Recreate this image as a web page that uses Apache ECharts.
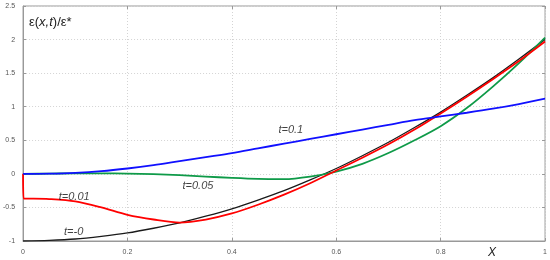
<!DOCTYPE html>
<html>
<head>
<meta charset="utf-8">
<script src="https://cdn.jsdelivr.net/npm/echarts@6/dist/echarts.min.js"></script>
<style>
  html, body { margin: 0; padding: 0; background: #fff; }
  #chart { width: 550px; height: 260px; }
</style>
</head>
<body>
<div id="chart"></div>
<script>
// x positions shared by the smooth curves
const xs = [0, 0.05, 0.1, 0.15, 0.2, 0.25, 0.3, 0.35, 0.4, 0.45, 0.5,
            0.55, 0.6, 0.65, 0.7, 0.75, 0.8, 0.85, 0.9, 0.95, 1.0];

// t=-0 (black)
const yT0 = [-1, -0.99, -0.97, -0.93, -0.88, -0.81, -0.73, -0.63, -0.52, -0.39, -0.25,
             -0.09, 0.08, 0.27, 0.47, 0.69, 0.92, 1.17, 1.43, 1.71, 2.0];
// t=0.05 (green)
const yT005 = [0, 0.003, 0.008, 0.008, 0.004, -0.005, -0.02, -0.04, -0.06, -0.075, -0.078,
               -0.04, 0.035, 0.15, 0.31, 0.5, 0.71, 0.98, 1.3, 1.65, 2.03];
// t=0.1 (blue)
const yT01 = [0, 0.003, 0.015, 0.04, 0.08, 0.13, 0.19, 0.25, 0.31, 0.38, 0.45,
              0.52, 0.59, 0.66, 0.73, 0.8, 0.855, 0.91, 0.97, 1.04, 1.12];
// t=0.01 (red) has its own x list because of the drop at x=0
const xsT001 = [0, 0.001, 0.02, 0.05, 0.1, 0.15, 0.2, 0.25, 0.3, 0.35, 0.4, 0.45, 0.5,
                0.55, 0.6, 0.65, 0.7, 0.75, 0.8, 0.85, 0.9, 0.95, 1.0];
const yT001 = [0, -0.37, -0.37, -0.375, -0.41, -0.5, -0.61, -0.68, -0.725, -0.68, -0.59, -0.46, -0.31,
               -0.14, 0.05, 0.24, 0.44, 0.66, 0.9, 1.15, 1.41, 1.68, 1.97];

// curve labels: [text, x, y]
const curveLabels = [
  ["t=0.1", 0.513, 0.65],
  ["t=0.05", 0.335, -0.18],
  ["t=0.01", 0.098, -0.35],
  ["t=-0", 0.097, -0.86]
];

const xTicks = ["0", "0.2", "0.4", "0.6", "0.8", "1"];
const yTicks = ["-1", "-0.5", "0", "0.5", "1", "1.5", "2", "2.5"];

const zip = (a, b) => a.map((v, i) => [v, b[i]]);

const chart = echarts.init(document.getElementById("chart"), null, { renderer: "canvas" });

const lineSeries = (name, data, color, width) => ({
  name,
  type: "line",
  data,
  showSymbol: false,
  smooth: 0.3,
  lineStyle: { color, width },
  animation: false,
  z: 3
});

const labelSeries = {
  type: "scatter",
  data: curveLabels.map((l) => ({ value: [l[1], l[2]], name: l[0] })),
  symbolSize: 0,
  silent: true,
  label: {
    show: true,
    position: "inside",
    formatter: (p) => p.name,
    fontFamily: "Liberation Sans, Arial",
    fontStyle: "italic",
    fontSize: 11,
    color: "#111",
    textBorderWidth: 0
  },
  z: 5
};

const tickFont = { fontFamily: "Liberation Sans, Arial", fontSize: 7, color: "#555" };
const grid = { left: 22, right: 3, top: 6, bottom: 19 };

chart.setOption({
  animation: false,
  backgroundColor: "#fff",
  grid: { ...grid, show: true, borderColor: "#999", borderWidth: 1, backgroundColor: "transparent" },
  title: {
    left: 24,
    top: 11,
    text: "{n|ε(}{i|x,t}{n|)/ε*}",
    textStyle: {
      fontWeight: "normal",
      rich: {
        n: { fontFamily: "Liberation Sans, Arial", fontSize: 13, fontWeight: "normal", color: "#222" },
        i: { fontFamily: "Liberation Sans, Arial", fontSize: 13, fontWeight: "normal", fontStyle: "italic", color: "#222" }
      }
    }
  },
  graphic: [{
    type: "text",
    left: 488,
    top: 247,
    style: { text: "X", font: "italic 12px 'Liberation Sans', Arial", fill: "#222" }
  }],
  xAxis: [{
    type: "value",
    min: 0,
    max: 1,
    interval: 0.2,
    axisLine: { show: true, onZero: false, lineStyle: { color: "#999" } },
    axisTick: { show: true, inside: true, length: 3, lineStyle: { color: "#999" } },
    axisLabel: { ...tickFont, margin: 8, formatter: (v) => xTicks[Math.round(v / 0.2)] },
    splitLine: { show: true, lineStyle: { color: "#d4d4d4", type: [1, 2] } }
  }, {
    type: "value",
    position: "top",
    min: 0,
    max: 1,
    interval: 0.2,
    axisLine: { show: false, onZero: false },
    axisTick: { show: true, inside: true, length: 3, lineStyle: { color: "#999" } },
    axisLabel: { show: false },
    splitLine: { show: false }
  }],
  yAxis: [{
    type: "value",
    min: -1,
    max: 2.5,
    interval: 0.5,
    axisLine: { show: true, onZero: false, lineStyle: { color: "#999" } },
    axisTick: { show: true, inside: true, length: 3, lineStyle: { color: "#999" } },
    axisLabel: { ...tickFont, margin: 8, formatter: (v) => yTicks[Math.round((v + 1) / 0.5)] },
    splitLine: { show: true, lineStyle: { color: "#d4d4d4", type: [1, 2] } }
  }, {
    type: "value",
    position: "right",
    min: -1,
    max: 2.5,
    interval: 0.5,
    axisLine: { show: false, onZero: false },
    axisTick: { show: true, inside: true, length: 3, lineStyle: { color: "#999" } },
    axisLabel: { show: false },
    splitLine: { show: false }
  }],
  series: [
    lineSeries("t=-0", zip(xs, yT0), "#1a1a1a", 1.3),
    lineSeries("t=0.05", zip(xs, yT005), "#0e9a48", 1.8),
    lineSeries("t=0.01", zip(xsT001, yT001), "#ff0000", 1.8),
    lineSeries("t=0.1", zip(xs, yT01), "#1010ff", 1.8),
    labelSeries
  ]
});
</script>
</body>
</html>
